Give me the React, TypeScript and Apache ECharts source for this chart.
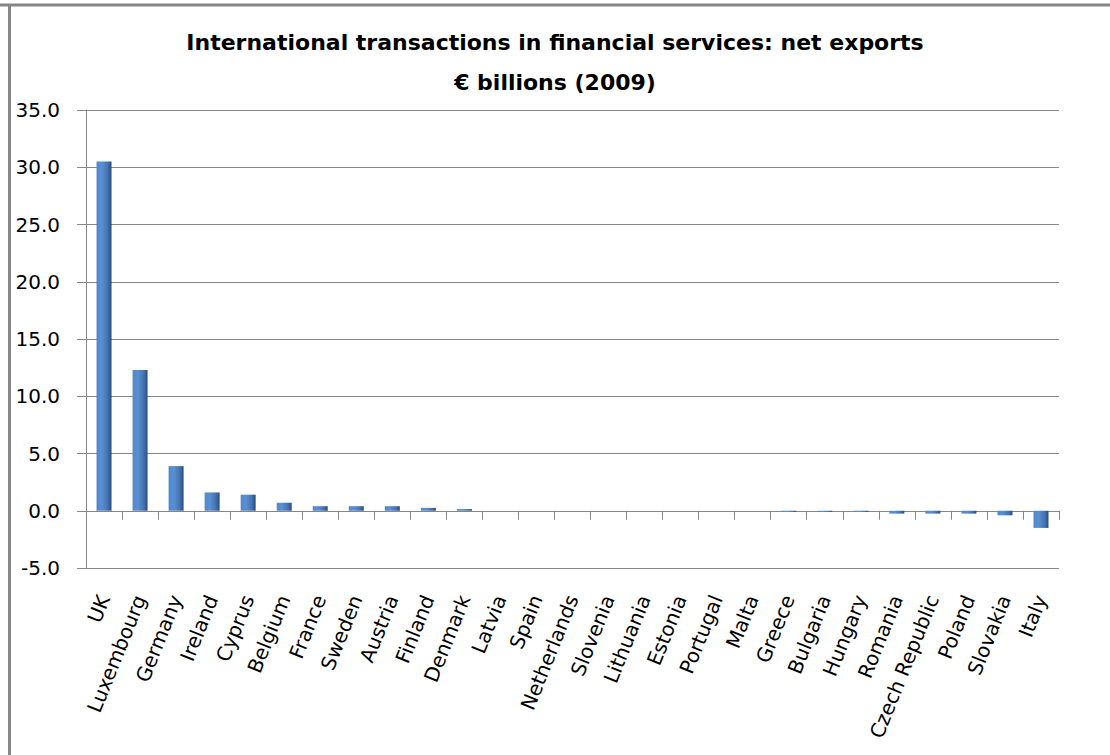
import React, { useEffect, useRef } from "react";
import * as echarts from "echarts";

const titleLine1 = "International transactions in financial services: net exports";
const titleLine2 = "€ billions (2009)";

const countries = [
  "UK", "Luxembourg", "Germany", "Ireland", "Cyprus", "Belgium", "France",
  "Sweden", "Austria", "Finland", "Denmark", "Latvia", "Spain", "Netherlands",
  "Slovenia", "Lithuania", "Estonia", "Portugal", "Malta", "Greece", "Bulgaria",
  "Hungary", "Romania", "Czech Republic", "Poland", "Slovakia", "Italy",
];

const netExports = [
  30.5, 12.3, 3.9, 1.6, 1.4, 0.7, 0.4,
  0.4, 0.4, 0.25, 0.15, 0, 0, 0,
  0, 0, 0, 0, 0, -0.1, -0.1,
  -0.1, -0.25, -0.25, -0.25, -0.4, -1.5,
];

const yMin = -5;
const yMax = 35;
const yStep = 5;

const FONT = "'DejaVu Sans', 'Open Sans', sans-serif";
const GRID_GRAY = "#868686";

export default function App() {
  const ref = useRef<HTMLDivElement>(null);

  useEffect(() => {
    if (!ref.current) return;
    const chart = echarts.init(ref.current, null, { renderer: "svg" });
    const barColor = new echarts.graphic.LinearGradient(0, 0, 1, 0, [
      { offset: 0, color: "#5089cf" },
      { offset: 0.35, color: "#5a8fd2" },
      { offset: 0.75, color: "#4372b0" },
      { offset: 1, color: "#2a4b7a" },
    ]);
    chart.setOption({
      animation: false,
      backgroundColor: "#ffffff",
      title: {
        text: titleLine1 + "\n" + titleLine2,
        left: "center",
        top: 17,
        textStyle: {
          fontFamily: FONT,
          fontSize: 22,
          fontWeight: "bold",
          color: "#000000",
          lineHeight: 40,
        },
      },
      graphic: [
        {
          type: "line",
          shape: { x1: 0, y1: 5, x2: 1110, y2: 5 },
          style: { stroke: "#878787", lineWidth: 3 },
          silent: true,
        },
        {
          type: "line",
          shape: { x1: 9.5, y1: 5, x2: 9.5, y2: 755 },
          style: { stroke: "#878787", lineWidth: 3 },
          silent: true,
        },
      ],
      grid: { left: 86, right: 51, top: 110, bottom: 187, containLabel: false },
      xAxis: [
        {
          type: "category",
          data: countries,
          position: "bottom",
          boundaryGap: true,
          axisLine: { show: false, onZero: false },
          axisTick: { show: false },
          axisLabel: {
            rotate: 68,
            interval: 0,
            margin: 28,
            fontFamily: FONT,
            fontSize: 20,
            color: "#000000",
          },
        },
        {
          type: "category",
          data: countries,
          position: "bottom",
          boundaryGap: true,
          axisLine: { show: true, onZero: true, lineStyle: { color: GRID_GRAY, width: 1 } },
          axisTick: { show: true, length: 9, interval: 0, lineStyle: { color: GRID_GRAY } },
          axisLabel: { show: false },
        },
      ],
      yAxis: {
        type: "value",
        min: yMin,
        max: yMax,
        interval: yStep,
        axisLine: { show: true, lineStyle: { color: GRID_GRAY } },
        axisTick: { show: true, length: 9, lineStyle: { color: GRID_GRAY } },
        splitLine: { show: true, lineStyle: { color: GRID_GRAY, width: 1 } },
        axisLabel: {
          formatter: (v: number) => v.toFixed(1),
          fontFamily: FONT,
          fontSize: 20,
          color: "#000000",
          margin: 26,
        },
      },
      series: [
        {
          type: "bar",
          xAxisIndex: 0,
          data: netExports,
          barWidth: 15,
          itemStyle: { color: barColor },
        },
      ],
    });
    return () => chart.dispose();
  }, []);

  return (
    <div
      ref={ref}
      style={{ position: "absolute", left: 0, top: 0, width: 1110, height: 755 }}
    />
  );
}
